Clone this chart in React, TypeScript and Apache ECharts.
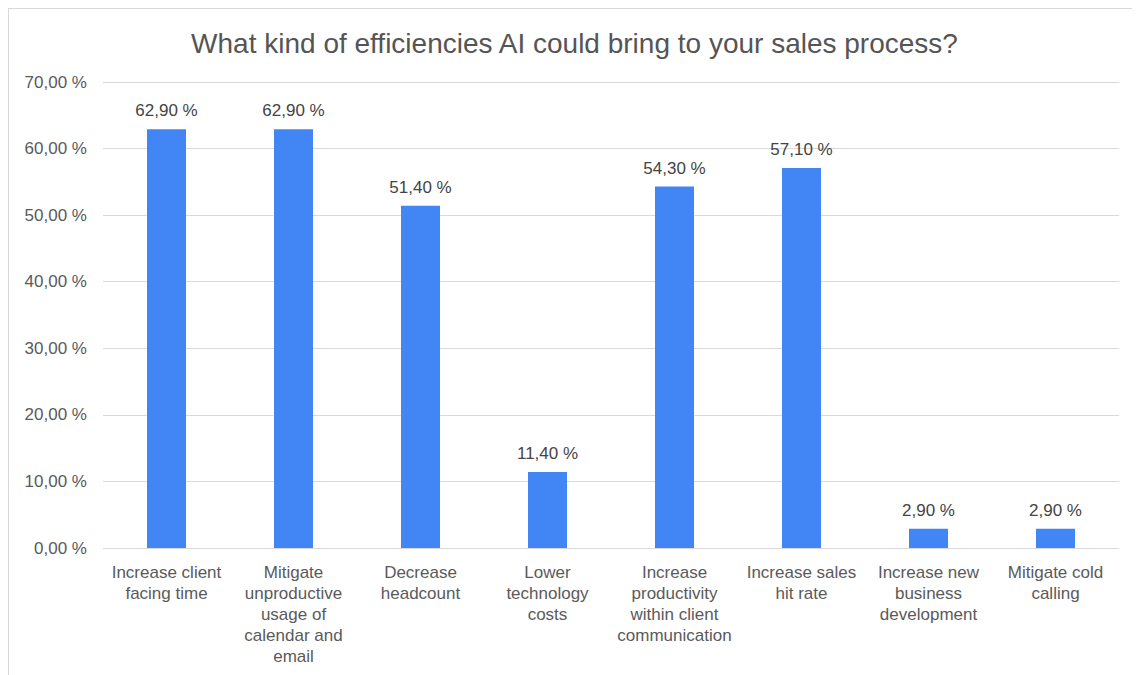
import React, { useEffect, useRef } from "react";
import * as echarts from "echarts";

const titleText = "What kind of efficiencies AI could bring to your sales process?";
const categories = [
  "Increase client\nfacing time",
  "Mitigate\nunproductive\nusage of\ncalendar and\nemail",
  "Decrease\nheadcount",
  "Lower\ntechnology\ncosts",
  "Increase\nproductivity\nwithin client\ncommunication",
  "Increase sales\nhit rate",
  "Increase new\nbusiness\ndevelopment",
  "Mitigate cold\ncalling",
];
const values = [62.9, 62.9, 51.4, 11.4, 54.3, 57.1, 2.9, 2.9];
const yMin = 0;
const yMax = 70;
const yInterval = 10;

const fmt = (v: number) => v.toFixed(2).replace(".", ",") + " %";

export default function App() {
  const ref = useRef<HTMLDivElement>(null);
  useEffect(() => {
    if (!ref.current) return;
    const chart = echarts.init(ref.current, null, { renderer: "svg" });
    const font = "'Liberation Sans', Arial, Helvetica, sans-serif";
    chart.setOption({
      animation: false,
      backgroundColor: "#ffffff",
      textStyle: { fontFamily: font },
      title: {
        text: titleText,
        left: "center",
        top: 15,
        textStyle: { fontFamily: font, fontSize: 28, fontWeight: "normal", color: "#555555" },
      },
      grid: { left: 94, right: 21, top: 73, bottom: 127, containLabel: false },
      xAxis: {
        type: "category",
        data: categories,
        axisLine: { show: false },
        axisTick: { show: false },
        axisLabel: {
          interval: 0,
          margin: 14,
          fontSize: 17,
          lineHeight: 21,
          color: "#5a5a5a",
          fontFamily: font,
        },
      },
      yAxis: {
        type: "value",
        min: yMin,
        max: yMax,
        interval: yInterval,
        axisLine: { show: false },
        axisTick: { show: false },
        splitLine: { lineStyle: { color: "#d9d9d9", width: 1 } },
        axisLabel: {
          margin: 16,
          fontSize: 17,
          color: "#5a5a5a",
          fontFamily: font,
          formatter: (v: number) => fmt(v),
        },
      },
      series: [
        {
          type: "bar",
          data: values,
          barWidth: 39,
          itemStyle: { color: "#4285F4" },
          label: {
            show: true,
            position: "top",
            distance: 10,
            fontSize: 17,
            color: "#444444",
            fontFamily: font,
            formatter: (p: any) => fmt(p.value),
          },
        },
      ],
    });
    return () => chart.dispose();
  }, []);
  return (
    <div
      style={{
        width: 1132,
        height: 667,
        boxSizing: "border-box",
        borderTop: "1px solid #d9d9d9",
        borderLeft: "1px solid #d9d9d9",
      }}
    >
      <div ref={ref} style={{ width: 1131, height: 666 }} />
    </div>
  );
}
